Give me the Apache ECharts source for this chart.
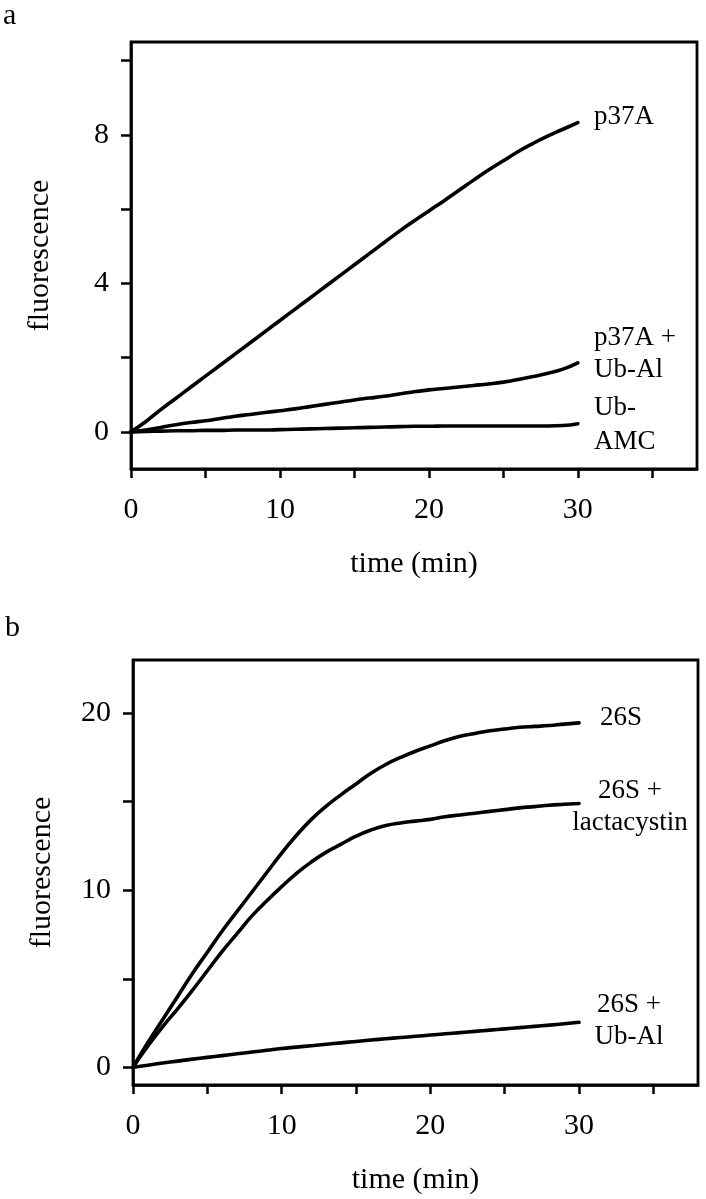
<!DOCTYPE html>
<html>
<head>
<meta charset="utf-8">
<script src="https://cdn.jsdelivr.net/npm/echarts@6/dist/echarts.min.js"></script>
<style>
html,body{margin:0;padding:0;background:#fff;}
#chart{width:706px;height:1199px;}
</style>
</head>
<body>
<div id="chart"></div>
<script>
// ---- data ----
var timeMin = [0,1,2,3,4,5,6,7,8,9,10,11,12,13,14,15,16,17,18,19,20,21,22,23,24,25,26,27,28,29,30];

// panel a
var p37A      = [0,0.28,0.6,0.9,1.2,1.5,1.8,2.1,2.4,2.7,3.0,3.3,3.6,3.9,4.2,4.5,4.8,5.1,5.4,5.68,5.95,6.22,6.5,6.78,7.05,7.3,7.55,7.77,7.97,8.15,8.33];
var p37AUbAl  = [0,0.05,0.12,0.19,0.25,0.3,0.36,0.42,0.47,0.52,0.57,0.62,0.68,0.74,0.8,0.86,0.91,0.96,1.02,1.08,1.13,1.17,1.21,1.25,1.29,1.34,1.41,1.49,1.58,1.69,1.86];
var ubAMC     = [0,0.01,0.02,0.03,0.03,0.04,0.04,0.05,0.05,0.05,0.06,0.07,0.08,0.09,0.1,0.11,0.12,0.13,0.14,0.15,0.15,0.16,0.16,0.16,0.16,0.16,0.16,0.16,0.16,0.17,0.22];

// panel b
var s26S      = [0,1.4,2.7,4.0,5.3,6.5,7.7,8.8,9.9,11.0,12.1,13.1,14.0,14.75,15.4,16.0,16.6,17.1,17.5,17.85,18.15,18.45,18.7,18.85,19.0,19.1,19.2,19.25,19.3,19.38,19.45];
var s26SLact  = [0,1.2,2.3,3.3,4.35,5.45,6.55,7.55,8.55,9.4,10.2,10.95,11.6,12.15,12.6,13.05,13.4,13.65,13.8,13.9,14.0,14.15,14.25,14.35,14.45,14.55,14.65,14.72,14.8,14.85,14.9];
var s26SUbAl  = [0,0.12,0.24,0.35,0.46,0.56,0.66,0.76,0.86,0.96,1.06,1.14,1.22,1.3,1.38,1.46,1.54,1.61,1.68,1.75,1.82,1.89,1.96,2.03,2.1,2.17,2.24,2.31,2.38,2.46,2.54];

// axes ticks / labels
var xTicks   = [0,5,10,15,20,25,30,35];
var xLabels  = [0,10,20,30];
var yTicksA  = [0,2,4,6,8,10];
var yLabelsA = [0,4,8];
var yTicksB  = [0,5,10,15,20];
var yLabelsB = [0,10,20];

var xTitle = 'time (min)';
var yTitle = 'fluorescence';

// ---- chart ----
function pairs(ys){ return timeMin.map(function(t,i){ return [t, ys[i]]; }); }

var FONT = '"Liberation Serif", "Times New Roman", serif';
var chart = echarts.init(document.getElementById('chart'), null, {renderer:'canvas'});

function xAxisCfg(gi){
  return {
    gridIndex: gi, type:'value', min:0, max:38,
    name: xTitle, nameLocation:'middle', nameGap:80,
    nameTextStyle:{fontFamily:FONT, fontSize:30, color:'#000'},
    axisLine:{show:true, onZero:false, lineStyle:{color:'#000', width:2.5}},
    axisTick:{show:true, inside:false, length:9, customValues:xTicks, lineStyle:{color:'#000', width:2.5}},
    axisLabel:{show:true, customValues:xLabels, margin:26, fontFamily:FONT, fontSize:30, color:'#000'},
    splitLine:{show:false}
  };
}
function yAxisCfg(gi, min, max, ticks, labels){
  return {
    gridIndex: gi, type:'value', min:min, max:max,
    name: yTitle, nameLocation:'middle', nameGap:76, nameRotate:90,
    nameTextStyle:{fontFamily:FONT, fontSize:30, color:'#000'},
    axisLine:{show:true, onZero:false, lineStyle:{color:'#000', width:2.5}},
    axisTick:{show:true, inside:false, length:10, customValues:ticks, lineStyle:{color:'#000', width:2.5}},
    axisLabel:{show:true, customValues:labels, margin:22, fontFamily:FONT, fontSize:30, color:'#000'},
    splitLine:{show:false}
  };
}
function lineSeries(name, xi, ys){
  return {
    name:name, type:'line', xAxisIndex:xi, yAxisIndex:xi, data:pairs(ys),
    showSymbol:false, symbol:'none', smooth:true, silent:true,
    lineStyle:{color:'#000', width:3.6, cap:'round', join:'round'}, animation:false
  };
}
function txt(s, x, y, align, size){
  return {type:'text', x:x, y:y, silent:true,
    style:{text:s, fill:'#000', font:(size||27)+'px '+FONT, textAlign:align||'left', textVerticalAlign:'middle'}};
}

chart.setOption({
  animation:false,
  backgroundColor:'#fff',
  grid:[
    {left:131, top:42, width:566, height:427, show:true, borderColor:'#000', borderWidth:2.8, backgroundColor:'transparent'},
    {left:133, top:660, width:565, height:425, show:true, borderColor:'#000', borderWidth:2.8, backgroundColor:'transparent'}
  ],
  xAxis:[ xAxisCfg(0), xAxisCfg(1) ],
  yAxis:[ yAxisCfg(0, -1, 10.5, yTicksA, yLabelsA), yAxisCfg(1, -1, 23, yTicksB, yLabelsB) ],
  series:[
    lineSeries('p37A', 0, p37A),
    lineSeries('p37A + Ub-Al', 0, p37AUbAl),
    lineSeries('Ub-AMC', 0, ubAMC),
    lineSeries('26S', 1, s26S),
    lineSeries('26S + lactacystin', 1, s26SLact),
    lineSeries('26S + Ub-Al', 1, s26SUbAl)
  ],
  graphic:[
    txt('a', 3, 16, 'left', 30),
    txt('b', 5, 628, 'left', 30),
    txt('p37A', 594, 117),
    txt('p37A +', 594, 338),
    txt('Ub-Al', 594, 370),
    txt('Ub-', 594, 408),
    txt('AMC', 594, 442),
    txt('26S', 600, 718),
    txt('26S +', 630, 791, 'center'),
    txt('lactacystin', 630, 823, 'center'),
    txt('26S +', 629, 1005, 'center'),
    txt('Ub-Al', 629, 1037, 'center')
  ]
});
</script>
</body>
</html>
